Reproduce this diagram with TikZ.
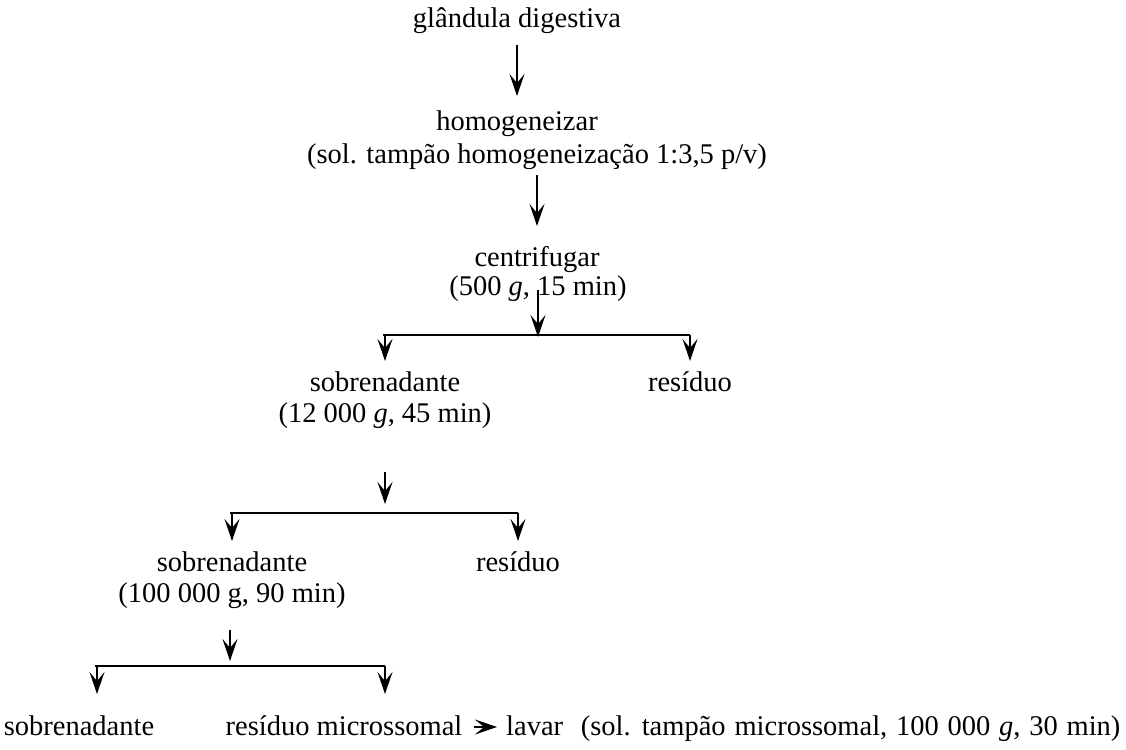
\documentclass[tikz,border=0pt]{standalone}
\usepackage{fontspec}
\setmainfont{Liberation Serif}
\usetikzlibrary{arrows.meta}
\begin{document}
\begin{tikzpicture}[x=1pt,y=-1pt,
  txt/.style={inner sep=0pt,anchor=base,font=\fontsize{28.5}{34}\selectfont},
  flow/.style={line width=1.8pt,-{Stealth[length=22pt,width=15pt,inset=9pt]}},
  bar/.style={line width=2pt}]
\useasboundingbox (0,0) rectangle (1126,749);
% texts
\node[txt] (t1) at (517,28) {glândula digestiva};
\node[txt] (t2) at (517,130) {homogeneizar};
\node[txt] (t2b) at (537,163) {(sol. tampão homogeneização 1:3,5 p/v)};
\node[txt] (t3) at (537,266) {centrifugar};
\node[txt] (t3b) at (538,295) {(500 \textit{g}, 15 min)};
\node[txt] (s1) at (385,391) {sobrenadante};
\node[txt] (s1b) at (385,422) {(12 000 \textit{g}, 45 min)};
\node[txt] (r1) at (690,391) {resíduo};
\node[txt] (s2) at (232,571) {sobrenadante};
\node[txt] (s2b) at (232,602) {(100 000 g, 90 min)};
\node[txt] (r2) at (518,571) {resíduo};
\node[txt] (s3) at (79,735) {sobrenadante};
\node[txt] (r3) at (344,735) {resíduo microssomal};
\node[txt,anchor=base west] (lav) at (506,735) {\spaceskip=8.8pt\relax lavar\ \ (sol. tampão microssomal, 100 000 \textit{g}, 30 min)};
% coordinates
\coordinate (a1s) at (517,45);  \coordinate (a1e) at (517,96);
\coordinate (a2s) at (537,175); \coordinate (a2e) at (537,226);
\coordinate (a3s) at (538,290); \coordinate (a3e) at (538,337);
\coordinate (b1l) at (383,335); \coordinate (b1r) at (690,335);
\coordinate (b1le) at (385,361); \coordinate (b1re) at (690,361);
\coordinate (a4s) at (385,472); \coordinate (a4e) at (385,504);
\coordinate (b2l) at (230,513); \coordinate (b2r) at (518,513);
\coordinate (b2le) at (232,541); \coordinate (b2re) at (518,541);
\coordinate (a5s) at (230,630); \coordinate (a5e) at (230,661);
\coordinate (b3l) at (95,666); \coordinate (b3r) at (385,666);
\coordinate (b3le) at (97,694); \coordinate (b3re) at (385,694);
\coordinate (hs) at (474,727); \coordinate (he) at (497,727);
% connectors
\draw[flow] (a1s) -- (a1e);
\draw[flow] (a2s) -- (a2e);
\draw[flow] (a3s) -- (a3e);
\draw[bar] (b1l) -- (b1r);
\draw[flow] (b1l) ++(2,0) coordinate (b1ls) -- (b1le);
\draw[flow] (b1r) -- (b1re);
\draw[flow] (a4s) -- (a4e);
\draw[bar] (b2l) -- (b2r);
\draw[flow] (b2l) ++(2,0) coordinate (b2ls) -- (b2le);
\draw[flow] (b2r) -- (b2re);
\draw[flow] (a5s) -- (a5e);
\draw[bar] (b3l) -- (b3r);
\draw[flow] (b3l) ++(2,0) coordinate (b3ls) -- (b3le);
\draw[flow] (b3r) -- (b3re);
\draw[flow] (hs) -- (he);
\end{tikzpicture}
\end{document}
